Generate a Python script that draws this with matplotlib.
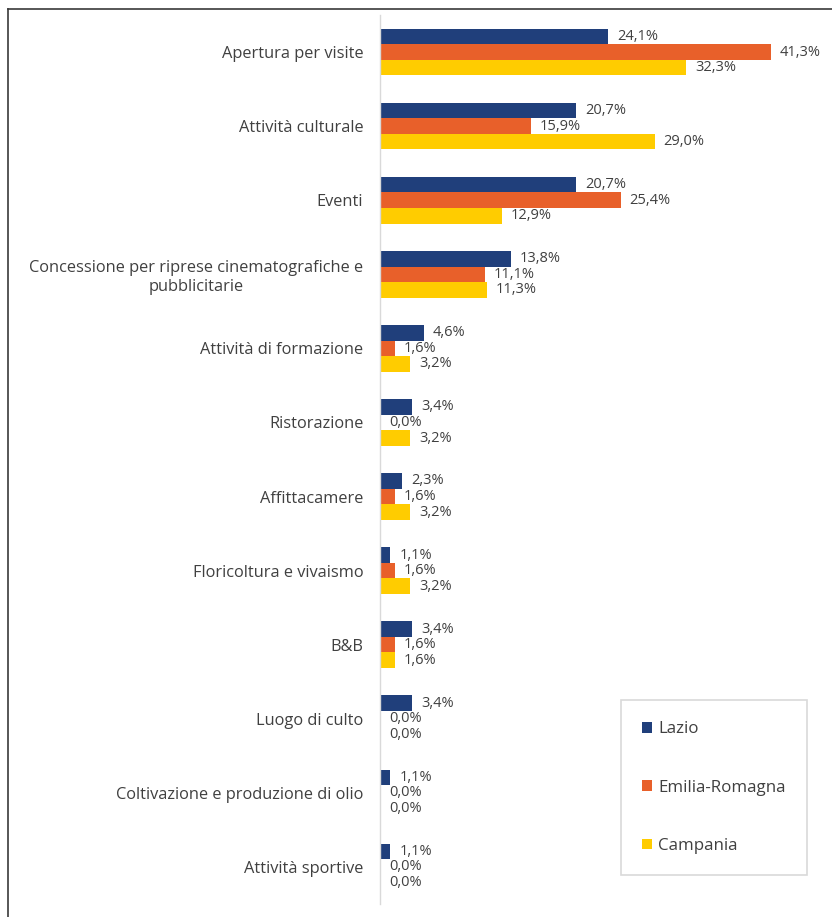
import matplotlib
matplotlib.use("Agg")
import matplotlib.pyplot as plt
from matplotlib.lines import Line2D
from matplotlib.patches import Patch
import numpy as np

plt.rcParams['font.family'] = ['Open Sans', 'DejaVu Sans']

categories = [
    "Apertura per visite",
    "Attività culturale",
    "Eventi",
    "Concessione per riprese cinematografiche e\npubblicitarie",
    "Attività di formazione",
    "Ristorazione",
    "Affittacamere",
    "Floricoltura e vivaismo",
    "B&B",
    "Luogo di culto",
    "Coltivazione e produzione di olio",
    "Attività sportive",
]
series_names = ["Lazio", "Emilia-Romagna", "Campania"]
lazio = [24.1, 20.7, 20.7, 13.8, 4.6, 3.4, 2.3, 1.1, 3.4, 3.4, 1.1, 1.1]
emilia = [41.3, 15.9, 25.4, 11.1, 1.6, 0.0, 1.6, 1.6, 1.6, 0.0, 0.0, 0.0]
campania = [32.3, 29.0, 12.9, 11.3, 3.2, 3.2, 3.2, 3.2, 1.6, 0.0, 0.0, 0.0]
colors = ["#203F7B", "#E8602A", "#FFCC00"]

W, H = 832, 917
fig = plt.figure(figsize=(W / 100, H / 100), dpi=100)
ax = fig.add_axes([380 / W, 1 - 904 / H, (822 - 380) / W, (904 - 15) / H])

n = len(categories)
y = np.arange(n)
bh = 0.21
offsets = [-bh, 0, bh]
text_color = "#404040"

for vals, off, col, name in zip([lazio, emilia, campania], offsets, colors, series_names):
    ax.barh(y + off, vals, height=bh, color=col, label=name, zorder=2)
    for yi, v in zip(y, vals):
        ax.annotate(f"{v:.1f}%".replace(".", ","), xy=(v, yi + off),
                    xytext=(9, 0), textcoords="offset pixels",
                    va="center", ha="left", fontsize=10.5, color=text_color)

ax.set_ylim(n - 0.5, -0.5)
ax.set_xlim(0, (822 - 380) / 9.47)
ax.set_yticks(y)
ax.set_yticklabels(categories, fontsize=11.8, color=text_color, multialignment="center")
ax.tick_params(axis="y", length=0, pad=12)
ax.set_xticks([])
for s in ["top", "right", "bottom"]:
    ax.spines[s].set_visible(False)
ax.spines["left"].set_color("#D9D9D9")
ax.spines["left"].set_linewidth(1.0)

handles = [Patch(facecolor=c, label=nm) for c, nm in zip(colors, series_names)]
leg = fig.legend(handles=handles, loc="upper left",
                 bbox_to_anchor=(621 / W, 1 - 700 / H), bbox_transform=fig.transFigure,
                 frameon=True, fancybox=False, edgecolor="#D0D0D0",
                 fontsize=12.2, labelcolor=text_color, handlelength=0.6, handleheight=0.6,
                 handletextpad=0.35, labelspacing=2.5, borderpad=1.25, borderaxespad=0)
leg.get_frame().set_linewidth(1.2)

# outer frame lines (top and left)
fig.add_artist(Line2D([8 / W, 1], [1 - 9 / H, 1 - 9 / H], transform=fig.transFigure,
                      color="#3A3A3A", lw=1.2))
fig.add_artist(Line2D([8 / W, 8 / W], [0, 1 - 9 / H], transform=fig.transFigure,
                      color="#3A3A3A", lw=1.2))

fig.savefig("out.png", dpi=100, facecolor="white")
